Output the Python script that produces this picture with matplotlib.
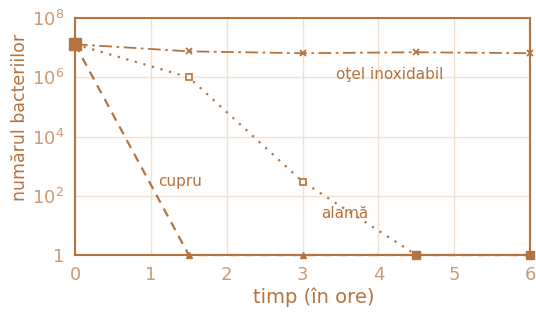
import matplotlib.pyplot as plt

hours = [0, 1.5, 3, 4.5, 6]
otel = [1.3e7, 7.5e6, 6.5e6, 7e6, 6.5e6]
alama = [1.3e7, 1e6, 3e2, 1, 1]
cupru = [1.3e7, 1, 1, 1, 1]

brown = '#b5733f'
light = '#c99b78'
grid = '#f1e1d2'

plt.rcParams['font.family'] = ['DejaVu Sans']
fig = plt.figure(figsize=(5.36, 3.22), dpi=100)
ax = fig.add_axes([0.14, 0.208, 0.849, 0.736])

ax.plot(hours, otel, linestyle=(0, (7, 2.5, 1.5, 2.5)), color=brown, lw=1.3,
        marker='x', ms=5, mew=1.3, zorder=3, clip_on=False)
ax.plot(hours, alama, linestyle=(0, (1, 3)), color=brown, lw=1.6,
        marker='s', ms=5, mfc='white', mec=brown, mew=1.2, zorder=3, clip_on=False)
ax.plot(hours, cupru, linestyle=(0, (4, 3)), color=brown, lw=1.6,
        marker='^', ms=5, mfc=brown, mec=brown, zorder=4, clip_on=False)
# overlapping points look filled
ax.plot([0], [1.3e7], marker='s', ms=8, color=brown, zorder=5, clip_on=False)
ax.plot(hours[3:], alama[3:], ls='none', marker='s', ms=6, color=brown, zorder=5, clip_on=False)

ax.set_yscale('log')
ax.set_xlim(0, 6)
ax.set_ylim(1, 1e8)
ax.set_xticks(range(7))
ax.set_yticks([1, 1e2, 1e4, 1e6, 1e8])
ax.set_yticklabels(['1', '$10^2$', '$10^4$', '$10^6$', '$10^8$'])
ax.minorticks_off()
ax.grid(True, color=grid, lw=1)
ax.tick_params(colors=light, labelsize=13, length=0, pad=8)
for s in ax.spines.values():
    s.set_color(brown)
    s.set_linewidth(1.5)

ax.set_xlabel('timp (în ore)', color=brown, fontsize=14, va='center')
ax.xaxis.set_label_coords(0.525, -0.177)
ax.set_ylabel('numărul bacteriilor', color=brown, fontsize=12.5, va='center')
ax.yaxis.set_label_coords(-0.121, 0.58)

ax.text(4.15, 1.2e6, 'oţel inoxidabil', color=brown, fontsize=11, ha='center', va='center')
ax.text(1.1, 3e2, 'cupru', color=brown, fontsize=11, ha='left', va='center')
ax.text(3.25, 2.6e1, 'alamă', color=brown, fontsize=11, ha='left', va='center')

fig.savefig('out.png', dpi=100)
